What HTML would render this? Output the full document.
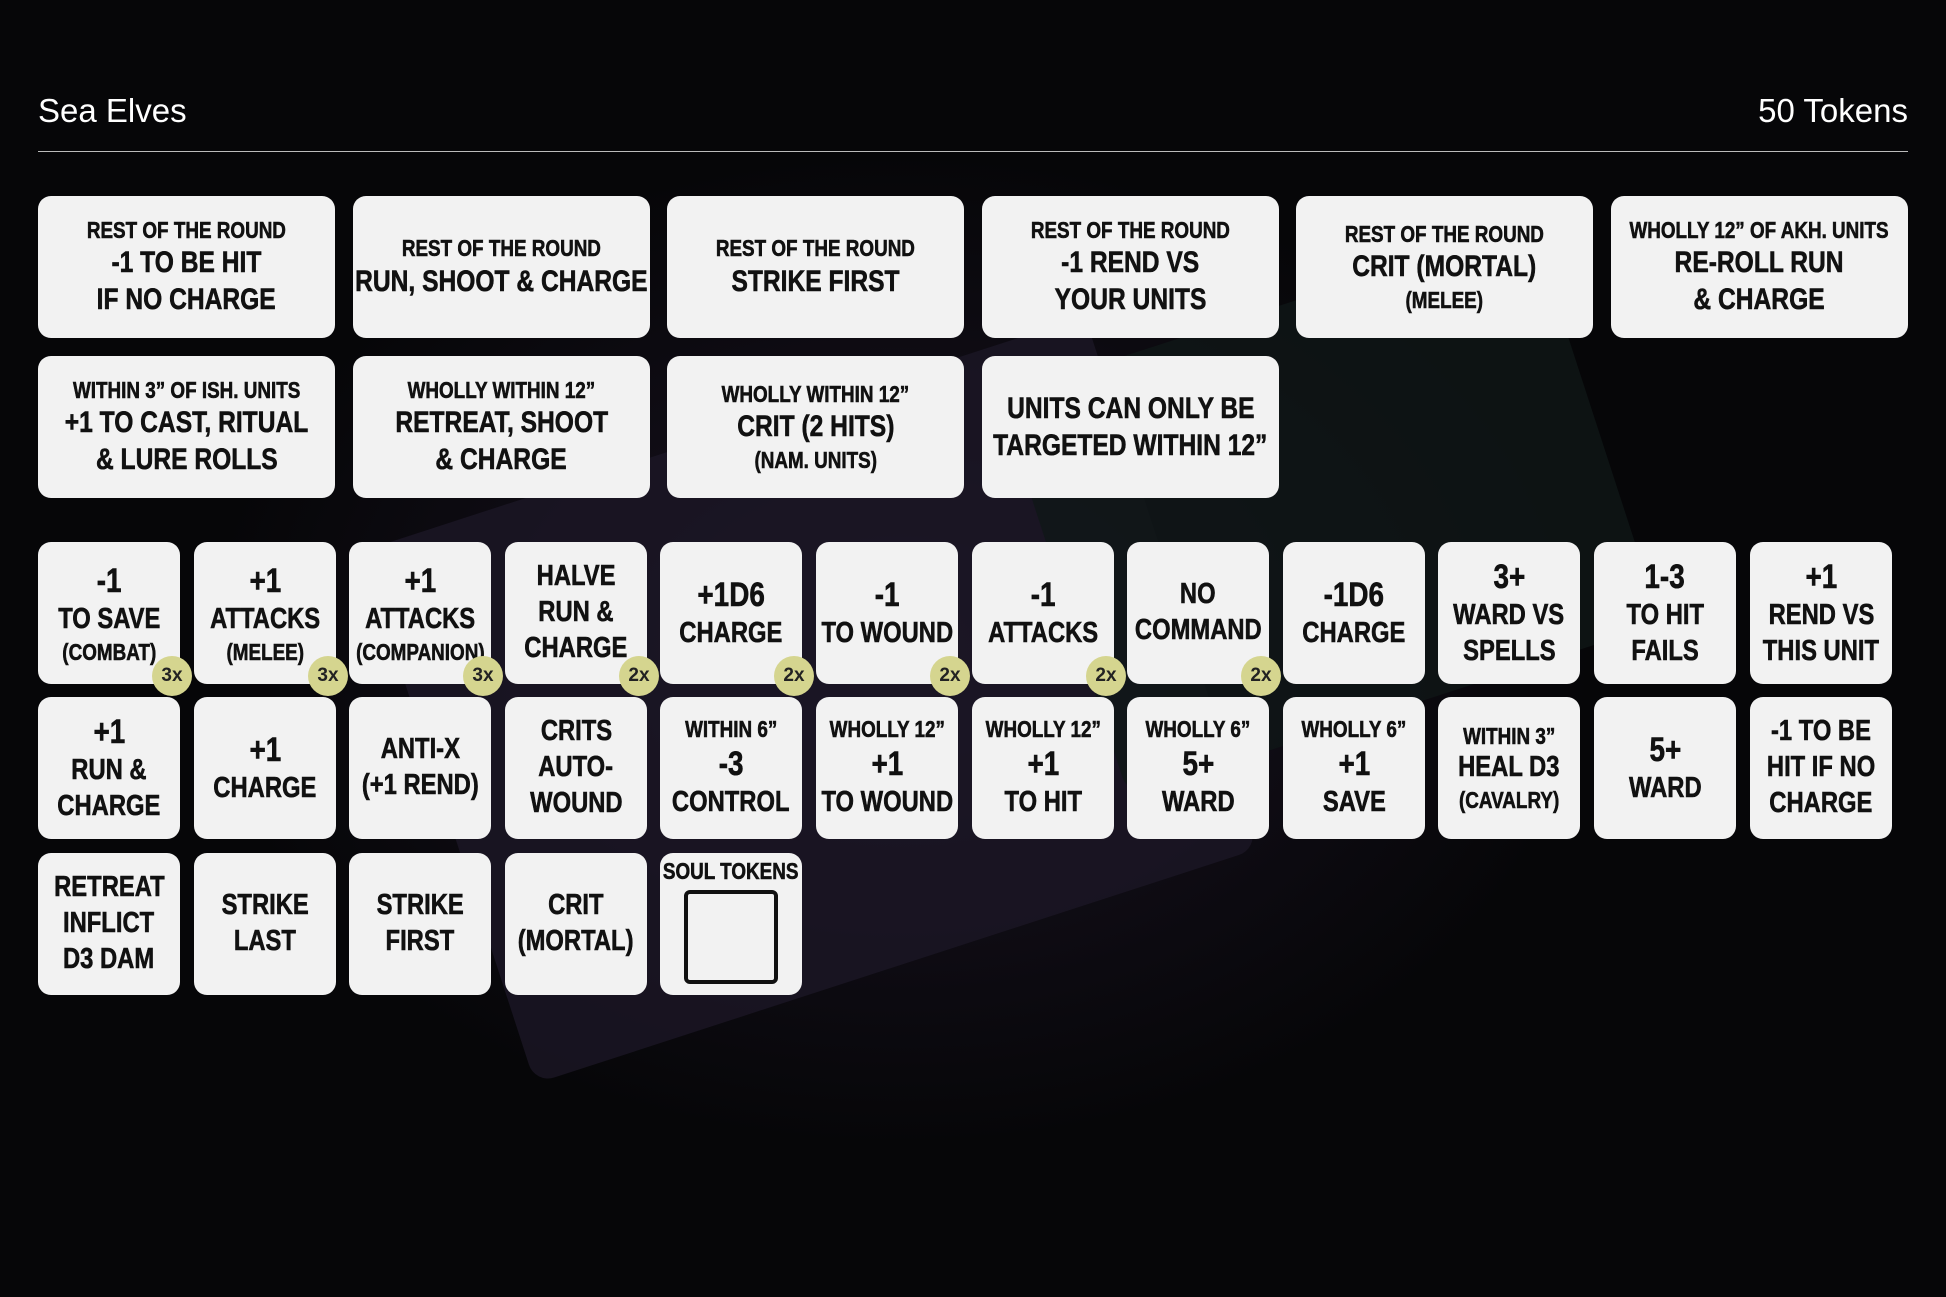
<!DOCTYPE html>
<html><head><meta charset="utf-8"><style>
*{margin:0;padding:0;box-sizing:border-box}
body{width:1946px;height:1297px;overflow:hidden;background:#070709;position:relative;font-family:"Liberation Sans",sans-serif}
.bg{position:absolute;inset:0;background:radial-gradient(ellipse 700px 500px at 900px 650px,#1b1524 0%,#0f0c14 55%,#060608 100%)}
.dev{position:absolute;left:430px;top:420px;width:760px;height:560px;background:#1c1626;transform:rotate(-18deg);border-radius:20px;opacity:.8}
.dev2{position:absolute;left:1050px;top:300px;width:560px;height:420px;background:#0f1616;transform:rotate(-18deg);border-radius:20px;opacity:.8}
.h{position:absolute;top:92px;color:#fff;font-family:"Liberation Sans",sans-serif;font-size:33px}
.line{position:absolute;left:38px;width:1870px;top:151px;height:1px;background:#bbb}
.t{position:absolute;background:#f2f2f2;border-radius:13px;display:flex;flex-direction:column;align-items:center;justify-content:center;text-align:center;color:#111;font-weight:bold;white-space:nowrap;line-height:1.24;-webkit-text-stroke:0.6px #111}
.t>div:not(.k){transform:scaleX(0.82)}
.B{width:297px;height:142px}
.S{width:142px;height:142px}
.l{font-size:30px}
.s{font-size:23px}
.n{font-size:34px}
.m{font-size:29px}
.k{position:absolute;width:40px;height:40px;border-radius:50%;background:#d5d58f;color:#222;font-size:19px;font-weight:bold;display:flex;align-items:center;justify-content:center;right:-12px;bottom:-12px;-webkit-text-stroke:0}
</style></head><body>
<div class="bg"></div>
<div class="dev"></div>
<div class="dev2"></div>
<div class="h" style="left:38px">Sea Elves</div>
<div class="h" style="right:38px">50 Tokens</div>
<div class="line"></div>

<div class="t B" style="left:38px;top:196px"><div class="s">REST OF THE ROUND</div><div class="l">-1 TO BE HIT</div><div class="l">IF NO CHARGE</div></div>
<div class="t B" style="left:353px;top:196px"><div class="s">REST OF THE ROUND</div><div class="l">RUN, SHOOT &amp; CHARGE</div></div>
<div class="t B" style="left:667px;top:196px"><div class="s">REST OF THE ROUND</div><div class="l">STRIKE FIRST</div></div>
<div class="t B" style="left:982px;top:196px"><div class="s">REST OF THE ROUND</div><div class="l">-1 REND VS</div><div class="l">YOUR UNITS</div></div>
<div class="t B" style="left:1296px;top:196px"><div class="s">REST OF THE ROUND</div><div class="l">CRIT (MORTAL)</div><div class="s">(MELEE)</div></div>
<div class="t B" style="left:1611px;top:196px"><div class="s">WHOLLY 12” OF AKH. UNITS</div><div class="l">RE-ROLL RUN</div><div class="l">&amp; CHARGE</div></div>

<div class="t B" style="left:38px;top:356px"><div class="s">WITHIN 3” OF ISH. UNITS</div><div class="l">+1 TO CAST, RITUAL</div><div class="l">&amp; LURE ROLLS</div></div>
<div class="t B" style="left:353px;top:356px"><div class="s">WHOLLY WITHIN 12”</div><div class="l">RETREAT, SHOOT</div><div class="l">&amp; CHARGE</div></div>
<div class="t B" style="left:667px;top:356px"><div class="s">WHOLLY WITHIN 12”</div><div class="l">CRIT (2 HITS)</div><div class="s">(NAM. UNITS)</div></div>
<div class="t B" style="left:982px;top:356px"><div class="l">UNITS CAN ONLY BE</div><div class="l">TARGETED WITHIN 12”</div></div>

<div class="t S" style="left:38px;top:542px"><div class="n">-1</div><div class="m">TO SAVE</div><div class="s">(COMBAT)</div><div class="k">3x</div></div>
<div class="t S" style="left:194px;top:542px"><div class="n">+1</div><div class="m">ATTACKS</div><div class="s">(MELEE)</div><div class="k">3x</div></div>
<div class="t S" style="left:349px;top:542px"><div class="n">+1</div><div class="m">ATTACKS</div><div class="s">(COMPANION)</div><div class="k">3x</div></div>
<div class="t S" style="left:505px;top:542px"><div class="m">HALVE</div><div class="m">RUN &amp;</div><div class="m">CHARGE</div><div class="k">2x</div></div>
<div class="t S" style="left:660px;top:542px"><div class="n">+1D6</div><div class="m">CHARGE</div><div class="k">2x</div></div>
<div class="t S" style="left:816px;top:542px"><div class="n">-1</div><div class="m">TO WOUND</div><div class="k">2x</div></div>
<div class="t S" style="left:972px;top:542px"><div class="n">-1</div><div class="m">ATTACKS</div><div class="k">2x</div></div>
<div class="t S" style="left:1127px;top:542px"><div class="m">NO</div><div class="m">COMMAND</div><div class="k">2x</div></div>
<div class="t S" style="left:1283px;top:542px"><div class="n">-1D6</div><div class="m">CHARGE</div></div>
<div class="t S" style="left:1438px;top:542px"><div class="n">3+</div><div class="m">WARD VS</div><div class="m">SPELLS</div></div>
<div class="t S" style="left:1594px;top:542px"><div class="n">1-3</div><div class="m">TO HIT</div><div class="m">FAILS</div></div>
<div class="t S" style="left:1750px;top:542px"><div class="n">+1</div><div class="m">REND VS</div><div class="m">THIS UNIT</div></div>

<div class="t S" style="left:38px;top:697px"><div class="n">+1</div><div class="m">RUN &amp;</div><div class="m">CHARGE</div></div>
<div class="t S" style="left:194px;top:697px"><div class="n">+1</div><div class="m">CHARGE</div></div>
<div class="t S" style="left:349px;top:697px"><div class="m">ANTI-X</div><div class="m">(+1 REND)</div></div>
<div class="t S" style="left:505px;top:697px"><div class="m">CRITS</div><div class="m">AUTO-</div><div class="m">WOUND</div></div>
<div class="t S" style="left:660px;top:697px"><div class="s">WITHIN 6”</div><div class="n">-3</div><div class="m">CONTROL</div></div>
<div class="t S" style="left:816px;top:697px"><div class="s">WHOLLY 12”</div><div class="n">+1</div><div class="m">TO WOUND</div></div>
<div class="t S" style="left:972px;top:697px"><div class="s">WHOLLY 12”</div><div class="n">+1</div><div class="m">TO HIT</div></div>
<div class="t S" style="left:1127px;top:697px"><div class="s">WHOLLY 6”</div><div class="n">5+</div><div class="m">WARD</div></div>
<div class="t S" style="left:1283px;top:697px"><div class="s">WHOLLY 6”</div><div class="n">+1</div><div class="m">SAVE</div></div>
<div class="t S" style="left:1438px;top:697px"><div class="s">WITHIN 3”</div><div class="m">HEAL D3</div><div class="s">(CAVALRY)</div></div>
<div class="t S" style="left:1594px;top:697px"><div class="n">5+</div><div class="m">WARD</div></div>
<div class="t S" style="left:1750px;top:697px"><div class="m">-1 TO BE</div><div class="m">HIT IF NO</div><div class="m">CHARGE</div></div>

<div class="t S" style="left:38px;top:853px"><div class="m">RETREAT</div><div class="m">INFLICT</div><div class="m">D3 DAM</div></div>
<div class="t S" style="left:194px;top:853px"><div class="m">STRIKE</div><div class="m">LAST</div></div>
<div class="t S" style="left:349px;top:853px"><div class="m">STRIKE</div><div class="m">FIRST</div></div>
<div class="t S" style="left:505px;top:853px"><div class="m">CRIT</div><div class="m">(MORTAL)</div></div>
<div class="t S" style="left:660px;top:853px;justify-content:flex-start"><div class="s" style="margin-top:4px">SOUL TOKENS</div><div style="width:94px;height:94px;border:4px solid #111;border-radius:6px;margin-top:4px;transform:none"></div></div>
</body></html>
